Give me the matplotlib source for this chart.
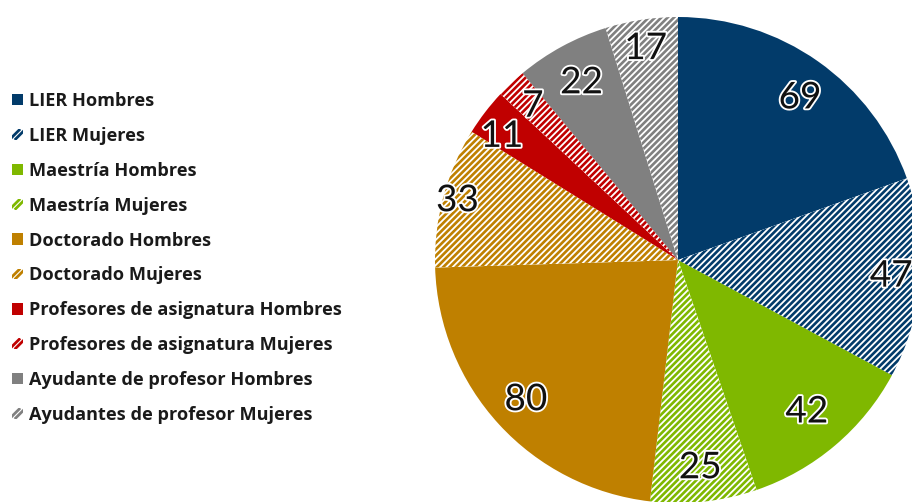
import matplotlib
matplotlib.use("Agg")
import matplotlib.pyplot as plt
import matplotlib.patheffects as pe
from matplotlib.patches import Patch, Rectangle
from matplotlib.collections import LineCollection
from matplotlib.legend_handler import HandlerBase
import numpy as np

labels = ["LIER Hombres", "LIER Mujeres", "Maestría Hombres", "Maestría Mujeres",
          "Doctorado Hombres", "Doctorado Mujeres",
          "Profesores de asignatura Hombres", "Profesores de asignatura Mujeres",
          "Ayudante de profesor Hombres", "Ayudantes de profesor Mujeres"]
values = [69, 47, 42, 25, 80, 33, 11, 7, 22, 17]
colors = ["#023b6a", "#023b6a", "#7fb800", "#7fb800", "#bf8000", "#bf8000",
          "#c00000", "#c00000", "#808080", "#808080"]
hatched = [False, True, False, True, False, True, False, True, False, True]
label_r = [0.835, 0.88, 0.82, 0.86, 0.85, 0.94, 0.885, 0.87, 0.83, 0.88]
label_dang = [-1.8, 0, 0, 0, 0, 0, 2.4, 0, 0, 0]

DPI = 76
W, H = 912, 502
fig = plt.figure(figsize=(W / DPI, H / DPI), dpi=DPI)
cx, cy, R = 678, 260, 243
ax = fig.add_axes([(cx - R) / W, (H - cy - R) / H, 2 * R / W, 2 * R / H])
wedges, _ = ax.pie(values, colors=colors, startangle=90, counterclock=False,
                   radius=1, wedgeprops=dict(linewidth=0))
ax.set_xlim(-1, 1)
ax.set_ylim(-1, 1)
ax.set_aspect("equal")
ax.axis("off")

# diagonal stripes for the "Mujeres" wedges
period = 6.3 / R
offs = np.arange(-2.2, 2.2, period)
segs = [[(-1.1, -1.1 + k), (1.1, 1.1 + k)] for k in offs]
for w, h, c in zip(wedges, hatched, colors):
    w.set_edgecolor(c)
    w.set_linewidth(0)
    if h:
        w.set_facecolor("white")
        lc = LineCollection(segs, colors=c, linewidths=2.5, zorder=w.get_zorder() + 0.1)
        ax.add_collection(lc)
        lc.set_clip_path(w)

for w, v, r, da in zip(wedges, values, label_r, label_dang):
    ang = np.deg2rad((w.theta1 + w.theta2) / 2 + da)
    t = ax.text(r * np.cos(ang), r * np.sin(ang), str(v), ha="center", va="center",
                fontsize=35, family=["Lato", "DejaVu Sans"], color="#111111", zorder=5)
    t.set_path_effects([pe.withStroke(linewidth=3.5, foreground="white")])


class StripedHandler(HandlerBase):
    def create_artists(self, legend, orig_handle, xdescent, ydescent, width, height,
                       fontsize, trans):
        s = min(width, height)
        x0, y0 = -xdescent, -ydescent + (height - s) / 2
        sq = Rectangle((x0, y0), s, s, facecolor="white", edgecolor="none", transform=trans)
        c = orig_handle.get_facecolor()
        segs_l = []
        for f in (0.25, 0.75):
            segs_l.append([(x0 + s * (f - 0.5), y0), (x0 + s * (f + 0.5), y0 + s)])
        lc = LineCollection(segs_l, colors=[c], linewidths=2.6, transform=trans)
        lc.set_clip_path(sq)
        return [sq, lc]


handles = []
hmap = {}
for lab, c, h in zip(labels, colors, hatched):
    p = Patch(facecolor=c, edgecolor=c, linewidth=0, label=lab)
    handles.append(p)
    if h:
        hmap[p] = StripedHandler()
leg = fig.legend(handles=handles, loc="upper left", bbox_to_anchor=(12 / W, 1 - 92 / H),
                 frameon=False, prop=dict(family="Open Sans", weight="bold", size=17.2),
                 handlelength=0.6, handleheight=0.6, handletextpad=0.35,
                 labelspacing=0.93, borderaxespad=0, borderpad=0, handler_map=hmap)
for t in leg.get_texts():
    t.set_color("#1a1a1a")

fig.savefig("out.png", dpi=DPI)
